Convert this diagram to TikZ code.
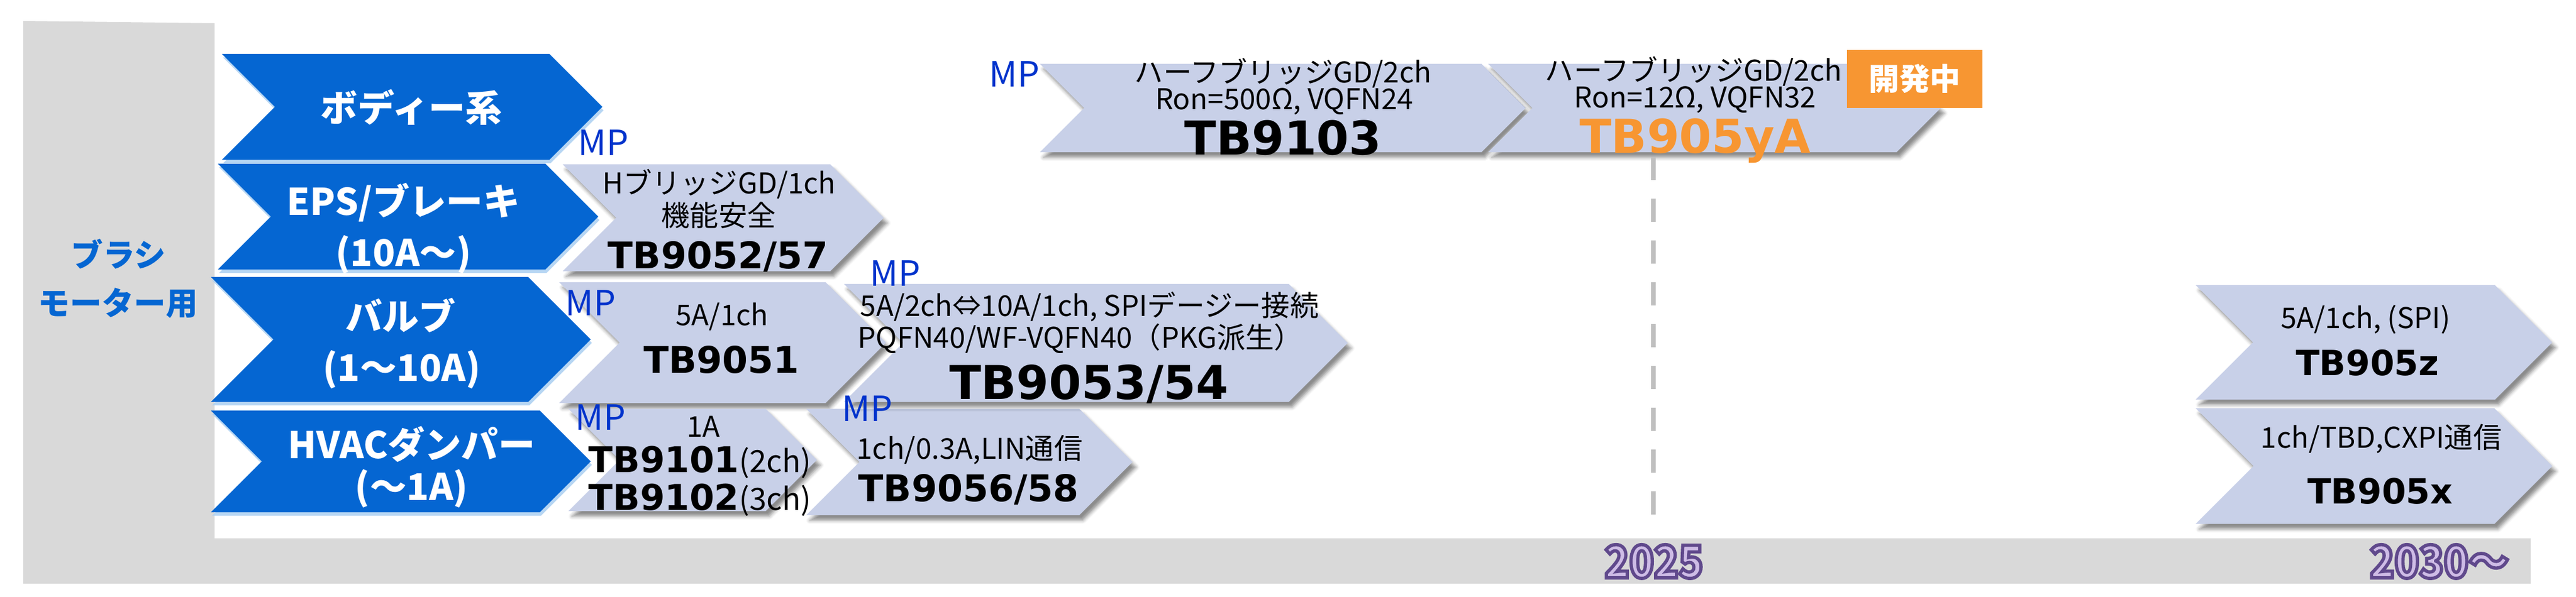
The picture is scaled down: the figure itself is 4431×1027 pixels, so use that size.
\documentclass[tikz,border=0pt]{standalone}
\usepackage{fontspec}
\setmainfont{Noto Sans CJK JP}
\newfontfamily\tbfont{DejaVu Sans}
\newfontfamily\yearfont[FakeStretch=0.9]{Noto Sans CJK JP}
\usetikzlibrary{shapes.symbols,shadows,shadows.blur}

\definecolor{catblue}{RGB}{5,102,210}
\definecolor{glowblue}{RGB}{175,210,242}
\definecolor{lav}{RGB}{200,208,232}
\definecolor{mpblue}{RGB}{0,51,204}
\definecolor{bggray}{RGB}{217,217,217}
\definecolor{devorange}{RGB}{247,150,50}
\definecolor{yrline}{RGB}{96,73,140}
\definecolor{yrfill}{RGB}{206,188,230}

% outlined year text (fill + stroke)
\newcommand\yearmark[1]{\textcolor{yrfill}{%
  \special{pdf:literal direct 2 Tr 1.6 w 0.376 0.286 0.549 RG}#1\special{pdf:literal direct 0 Tr}}}

\begin{document}
\begin{tikzpicture}[x=0.01cm,y=-0.01cm]
    \tikzstyle{cat}=[signal, signal to=east, signal from=west, signal pointer angle=90, inner sep=0,
                     fill=catblue, drop shadow={shadow xshift=0.02cm, shadow yshift=-0.06cm, fill=glowblue, opacity=0.9}]
    \tikzstyle{chev}=[signal, signal to=east, signal from=west, signal pointer angle=90, inner sep=0,
                      fill=lav, blur shadow={shadow xshift=0.06cm, shadow yshift=-0.09cm, shadow blur radius=0.06cm, shadow opacity=45}]
    \tikzstyle{cattext}=[anchor=base, inner sep=0, text=white, font=\bfseries\fontsize{18}{18}\selectfont]
    \tikzstyle{sidetext}=[anchor=base, inner sep=0, text=catblue, font=\bfseries\fontsize{15.6}{16}\selectfont]
    \tikzstyle{mp}=[anchor=base, inner sep=0, text=mpblue, font=\fontsize{17}{17}\selectfont]
    \tikzstyle{spec}=[anchor=base, inner sep=0, font=\fontsize{14}{14}\selectfont]
    \tikzstyle{part}=[anchor=base, inner sep=0, font=\tbfont\bfseries\fontsize{18}{18}\selectfont]
    \tikzstyle{bigpart}=[anchor=base, inner sep=0, font=\tbfont\bfseries\fontsize{22.8}{23}\selectfont]
    \tikzstyle{year}=[anchor=base, inner sep=0, font=\yearfont\bfseries\fontsize{22}{22}\selectfont]

    \useasboundingbox (0,0) rectangle (4431,1027);

    % background L
    \fill[bggray] (40,36) -- (369,40) -- (369,927) -- (4353,927) -- (4353,1005) -- (40,1005) -- cycle;
    \node[sidetext] (brush1) at (204,459) {ブラシ};
    \node[sidetext] (brush2) at (203,542) {モーター用};

    % categories
    \node[cat, minimum width=6.54cm, minimum height=1.82cm] (body) at (709,184) {};
    \node[cat, minimum width=6.54cm, minimum height=1.82cm] (eps) at (702,373) {};
    \node[cat, minimum width=6.53cm, minimum height=2.15cm] (valve) at (689.5,584.5) {};
    \node[cat, minimum width=6.53cm, minimum height=1.75cm] (hvac) at (689.5,794.5) {};
    \node[cattext] (bodyt) at (708,209) {ボディー系};
    \node[cattext] (epst1) at (694,370) {EPS/ブレーキ};
    \node[cattext] (epst2) at (694,458) {(10A～)};
    \node[cattext] (valvet1) at (689,568) {バルブ};
    \node[cattext] (valvet2) at (691,656) {(1～10A)};
    \node[cattext] (hvact1) at (708,789) {HVACダンパー};
    \node[cattext] (hvact2) at (708,861) {(～1A)};

    % products
    \node[chev, minimum width=5.52cm, minimum height=1.84cm] (c9052) at (1244,375) {};
    \node[chev, minimum width=5.62cm, minimum height=2.08cm] (c9051) at (1243,590) {};
    \node[chev, minimum width=4.27cm, minimum height=1.76cm] (c9101) at (1191.5,792) {};
    \node[chev, minimum width=5.61cm, minimum height=1.83cm] (c9056) at (1667.5,795.5) {};
    \node[chev, minimum width=8.66cm, minimum height=2.03cm] (c9053) at (1885,590.5) {};
    \node[chev, minimum width=8.35cm, minimum height=1.52cm] (c9103) at (2206.5,186) {};
    \node[chev, minimum width=7.78cm, minimum height=1.52cm] (c905y) at (2949,186) {};
    \node[chev, minimum width=6.13cm, minimum height=1.97cm] (c905z) at (4083.5,589.5) {};
    \node[chev, minimum width=6.13cm, minimum height=1.99cm] (c905x) at (4083.5,802.5) {};

    \node[spec] (s9052a) at (1237,333) {HブリッジGD/1ch};
    \node[spec] (s9052b) at (1236,389) {機能安全};
    \node[part] (p9052) at (1235,462) {TB9052/57};

    \node[spec] (s9051) at (1242,560) {5A/1ch};
    \node[part] (p9051) at (1241,642) {TB9051};

    \node[spec] (s9101) at (1210,752) {1A};
    \node[part, anchor=base west, font=\tbfont\bfseries\fontsize{17.4}{18}\selectfont] (p9101) at (1012,813)
        {TB9101{\normalfont\fontsize{15}{15}\selectfont(2ch)}};
    \node[part, anchor=base west, font=\tbfont\bfseries\fontsize{17.4}{18}\selectfont] (p9102) at (1012,878)
        {TB9102{\normalfont\fontsize{15}{15}\selectfont(3ch)}};

    \node[spec] (s9056) at (1668,790) {1ch/0.3A,LIN通信};
    \node[part] (p9056) at (1666,863) {TB9056/58};

    \node[spec] (s9053a) at (1874,544) {5A/2ch⇔10A/1ch, SPIデージー接続};
    \node[spec] (s9053b) at (1858,599) {PQFN40/WF-VQFN40（PKG派生）};
    \node[bigpart] (p9053) at (1873,687) {TB9053/54};

    \node[spec] (s9103a) at (2207,142) {ハーフブリッジGD/2ch};
    \node[spec] (s9103b) at (2209,188) {Ron=500Ω, VQFN24};
    \node[bigpart] (p9103) at (2207,266) {TB9103};

    \node[spec] (s905ya) at (2913,139) {ハーフブリッジGD/2ch};
    \node[spec] (s905yb) at (2916,185) {Ron=12Ω, VQFN32};
    \node[bigpart, text=devorange] (p905y) at (2916,263) {TB905yA};
    \node[rectangle, fill=devorange, minimum width=2.33cm, minimum height=1cm, text=white,
          font=\bfseries\fontsize{15}{15}\selectfont] (dev) at (3293.5,136) {開発中};

    \node[spec] (s905z) at (4069,565) {5A/1ch, (SPI)};
    \node[part, font=\tbfont\bfseries\fontsize{17}{17}\selectfont] (p905z) at (4072,646) {TB905z};
    \node[spec] (s905x) at (4096,771) {1ch/TBD,CXPI通信};
    \node[part, font=\tbfont\bfseries\fontsize{17}{17}\selectfont] (p905x) at (4094,867) {TB905x};

    % MP marks
    \node[mp] (mp9052) at (1038,267) {MP};
    \node[mp] (mp9051) at (1016,543) {MP};
    \node[mp] (mp9101) at (1033,740) {MP};
    \node[mp] (mp9053) at (1540,492) {MP};
    \node[mp] (mp9056) at (1492,725) {MP};
    \node[mp] (mp9103) at (1745,149) {MP};

    % 2025 line
    \coordinate (m25a) at (2844,270);
    \coordinate (m25b) at (2844,888);
    \draw[black!25, line width=2.3pt, dash pattern=on 0.4cm off 0.32cm] (m25a) -- (m25b);

    % years
    \node[year] (y25) at (2845,995) {\yearmark{2025}};
    \node[year] (y30) at (4196,995) {\yearmark{2030～}};

\end{tikzpicture}
\end{document}
